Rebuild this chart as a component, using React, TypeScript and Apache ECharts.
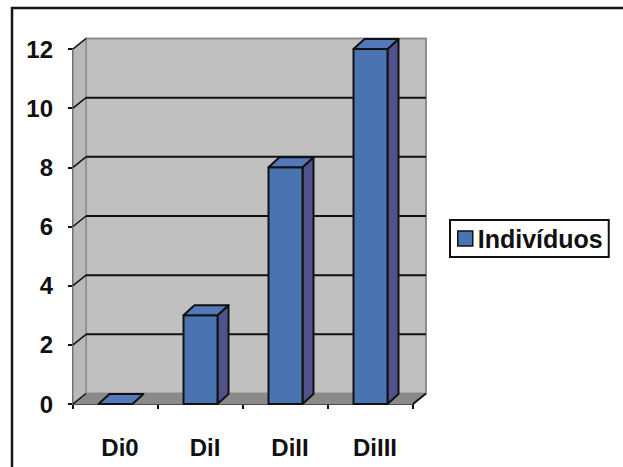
import React, { useEffect, useRef } from "react";
import * as echarts from "echarts";

// Categories and counts
const categories = ["Di0", "DiI", "DiII", "DiIII"];
const individuos = [0, 3, 8, 12];
const seriesName = "Indivíduos";

// Value axis ticks (also used for gridlines on the back wall)
const yTicks = [0, 2, 4, 6, 8, 10, 12];

const FONT = "'Liberation Sans', Arial, Helvetica, sans-serif";

// 3D depth offsets (walls and bars)
const WALL_DX = 13;
const WALL_DY = -10.5;
const BAR_DX = 11;
const BAR_DY = -10;

const App: React.FC = () => {
  const ref = useRef<HTMLDivElement>(null);

  useEffect(() => {
    if (!ref.current) return;
    const chart = echarts.init(ref.current, undefined, { renderer: "svg" });

    const renderWalls = (params: any, api: any) => {
      const cs = params.coordSys;
      const x0 = cs.x;
      const x1 = cs.x + cs.width;
      const yBot = api.coord([0, 0])[1];
      const yTop = api.coord([0, yTicks[yTicks.length - 1]])[1];
      const children: any[] = [];
      // back wall
      children.push({
        type: "polygon",
        shape: {
          points: [
            [x0 + WALL_DX, yTop + WALL_DY],
            [x1 + WALL_DX, yTop + WALL_DY],
            [x1 + WALL_DX, yBot + WALL_DY],
            [x0 + WALL_DX, yBot + WALL_DY],
          ],
        },
        style: { fill: "#c0c0c0", stroke: "#8e8e8e", lineWidth: 2 },
      });
      // left side wall
      children.push({
        type: "polygon",
        shape: {
          points: [
            [x0, yTop],
            [x0 + WALL_DX, yTop + WALL_DY],
            [x0 + WALL_DX, yBot + WALL_DY],
            [x0, yBot],
          ],
        },
        style: { fill: "#b8b8b8", stroke: "#8e8e8e", lineWidth: 1.5 },
      });
      // floor
      children.push({
        type: "polygon",
        shape: {
          points: [
            [x0, yBot],
            [x0 + WALL_DX, yBot + WALL_DY],
            [x1 + WALL_DX, yBot + WALL_DY],
            [x1, yBot],
          ],
        },
        style: { fill: "#8a8a8a", stroke: "#8a8a8a", lineWidth: 1 },
      });
      // gridlines on back wall and diagonals on side wall
      yTicks.forEach((v) => {
        const y = api.coord([0, v])[1];
        if (v !== 0 && v !== yTicks[yTicks.length - 1]) {
          children.push({
            type: "line",
            shape: { x1: x0 + WALL_DX, y1: y + WALL_DY, x2: x1 + WALL_DX, y2: y + WALL_DY },
            style: { stroke: "#111", lineWidth: 2 },
          });
        }
        children.push({
          type: "line",
          shape: { x1: x0, y1: y, x2: x0 + WALL_DX, y2: y + WALL_DY },
          style: { stroke: "#111", lineWidth: 1.5 },
        });
      });
      // floor front-right diagonal
      children.push({
        type: "line",
        shape: { x1: x1, y1: yBot, x2: x1 + WALL_DX, y2: yBot + WALL_DY },
        style: { stroke: "#111", lineWidth: 2 },
      });
      return { type: "group", children };
    };

    const renderBar = (params: any, api: any) => {
      const idx = api.value(0);
      const val = api.value(1);
      const [cx, top] = api.coord([idx, val]);
      const bottom = api.coord([idx, 0])[1];
      const w = api.size([1, 0])[0] * 0.4;
      const xl = cx - w / 2;
      const xr = cx + w / 2;
      const stroke = { stroke: "#111", lineWidth: 2, lineJoin: "round" };
      const children: any[] = [];
      if (bottom - top > 0.5) {
        children.push({
          type: "polygon",
          shape: { points: [[xr, top], [xr + BAR_DX, top + BAR_DY], [xr + BAR_DX, bottom + BAR_DY], [xr, bottom]] },
          style: { fill: "#51528c", ...stroke },
        });
        children.push({
          type: "rect",
          shape: { x: xl, y: top, width: w, height: bottom - top },
          style: { fill: "#4a73b1", ...stroke },
        });
      }
      children.push({
        type: "polygon",
        shape: { points: [[xl, top], [xr, top], [xr + BAR_DX, top + BAR_DY], [xl + BAR_DX, top + BAR_DY]] },
        style: { fill: "#5478b9", ...stroke },
      });
      return { type: "group", children };
    };

    chart.setOption({
      animation: false,
      backgroundColor: "#ffffff",
      textStyle: { fontFamily: FONT },
      grid: { left: 73, top: 49, width: 340, height: 355 },
      legend: {
        data: [seriesName],
        left: 450,
        top: 220,
        orient: "vertical",
        padding: [6, 6, 6, 7],
        borderColor: "#111",
        borderWidth: 2,
        itemWidth: 15,
        itemHeight: 15,
        icon: "rect",
        itemStyle: { color: "#4a73b1", borderColor: "#111", borderWidth: 1.5 },
        textStyle: { fontFamily: FONT, fontWeight: "bold", fontSize: 25, color: "#111" },
      },
      xAxis: {
        type: "category",
        data: categories,
        boundaryGap: true,
        axisLine: { show: true, lineStyle: { color: "#111", width: 2 } },
        axisTick: { show: true, alignWithLabel: false, length: 5, lineStyle: { color: "#111", width: 2 } },
        axisLabel: {
          margin: 31,
          padding: [0, 0, 0, 9],
          fontFamily: FONT,
          fontWeight: "bold",
          fontSize: 24,
          color: "#111",
        },
        splitLine: { show: false },
      },
      yAxis: {
        type: "value",
        min: 0,
        max: 12,
        interval: 2,
        axisLine: { show: true, lineStyle: { color: "#111", width: 2 } },
        axisTick: { show: true, length: 5, lineStyle: { color: "#111", width: 2 } },
        axisLabel: { margin: 20, fontFamily: FONT, fontWeight: "bold", fontSize: 24, color: "#111" },
        splitLine: { show: false },
      },
      graphic: [
        {
          type: "rect",
          shape: { x: 12, y: 8, width: 1000, height: 1000 },
          style: { fill: "none", stroke: "#151515", lineWidth: 2.5 },
          silent: true,
        },
      ],
      series: [
        {
          type: "custom",
          name: "walls",
          renderItem: renderWalls,
          data: [[0, 0]],
          z: 1,
          silent: true,
          tooltip: { show: false },
        },
        {
          type: "custom",
          name: seriesName,
          renderItem: renderBar,
          itemStyle: { color: "#4a73b1" },
          data: individuos.map((v, i) => [i, v]),
          encode: { x: 0, y: 1 },
          z: 3,
        },
      ],
    });

    return () => chart.dispose();
  }, []);

  return (
    <div
      ref={ref}
      style={{ position: "absolute", left: 0, top: 0, width: 623, height: 467 }}
    />
  );
};

export default App;
